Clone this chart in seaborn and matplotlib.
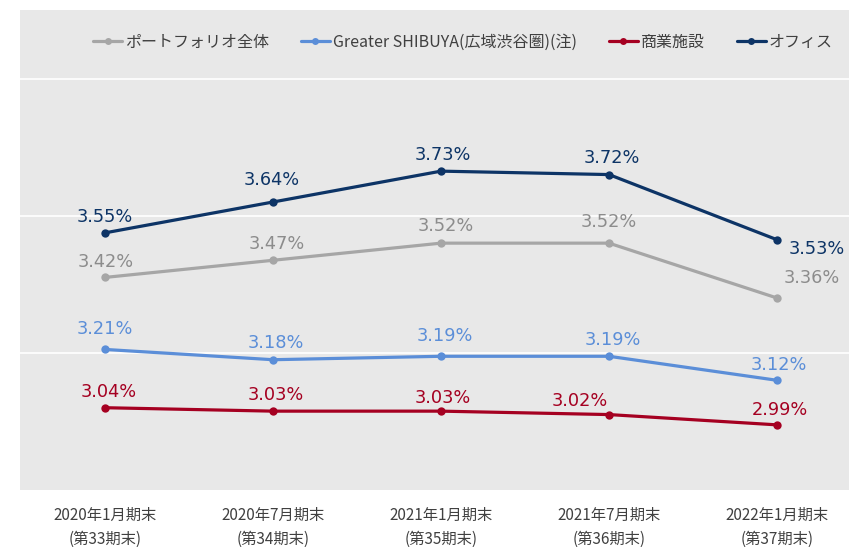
import pandas as pd
import matplotlib
matplotlib.use("Agg")
import matplotlib.pyplot as plt
import seaborn as sns

# periods (x axis)
periods = ["2020年1月期末\n(第33期末)", "2020年7月期末\n(第34期末)", "2021年1月期末\n(第35期末)",
           "2021年7月期末\n(第36期末)", "2022年1月期末\n(第37期末)"]

# NOI yields (%)
portfolio = [3.42, 3.47, 3.52, 3.52, 3.36]
shibuya = [3.21, 3.18, 3.19, 3.19, 3.12]
retail = [3.04, 3.03, 3.03, 3.02, 2.99]
office = [3.55, 3.64, 3.73, 3.72, 3.53]

series_names = ["ポートフォリオ全体", "Greater SHIBUYA(広域渋谷圏)(注)", "商業施設", "オフィス"]
series_values = [portfolio, shibuya, retail, office]

line_colors = ["#a6a6a6", "#5b8ed8", "#a50021", "#0d3466"]
label_colors = ["#8c8c8c", "#5b8ed8", "#a50021", "#0d3466"]

# label offsets in pixels (dx, dy) for each point
offsets = [
    [(1, 15), (4, 16), (5, 17), (0, 21), (35, 20)],
    [(0, 20), (3, 17), (4, 20), (4, 16), (2, 15)],
    [(4, 16), (3, 16), (2, 13), (-29, 14), (3, 15)],
    [(0, 16), (-1, 22), (2, 16), (3, 17), (40, -9)],
]

rows = []
for name, vals in zip(series_names, series_values):
    for i, v in enumerate(vals):
        rows.append({"x": i, "value": v, "series": name})
df = pd.DataFrame(rows)

sns.set_style("white")
plt.rcParams["font.family"] = ["Noto Sans CJK JP", "DejaVu Sans"]

fig = plt.figure(figsize=(8.49, 5.47), dpi=100)
ax = fig.add_axes([20 / 849, 57 / 547, 829 / 849, 480 / 547])
ax.set_facecolor("#e8e8e8")

palette = dict(zip(series_names, line_colors))
sns.lineplot(data=df, x="x", y="value", hue="series", hue_order=series_names,
             palette=palette, marker="o", markersize=6, markeredgewidth=0,
             linewidth=2.3, ax=ax, legend=False)

# value labels
for k, vals in enumerate(series_values):
    for i, v in enumerate(vals):
        dx, dy = offsets[k][i]
        ax.annotate(f"{v:.2f}%", (i, v), xytext=(dx, dy), textcoords="offset pixels",
                    ha="center", va="center", fontsize=12.8, color=label_colors[k],
                    family="DejaVu Sans")

ax.set_xlim(-(105 - 20) / 168, (849 - 105) / 168)
ax.set_ylim(2.8, 4.2)
ax.set_yticks([3.2, 3.6, 4.0])
ax.set_yticklabels([])
ax.tick_params(axis="y", length=0)
ax.grid(axis="y", color="white", linewidth=1.2)
ax.set_xticks(range(len(periods)))
ax.set_xticklabels([])
ax.tick_params(axis="x", length=0)
for i, p in enumerate(periods):
    ax.annotate(p, (i, 0), xycoords=("data", "axes fraction"), xytext=(0, -37),
                textcoords="offset pixels", ha="center", va="center",
                fontsize=11, color="#404040", linespacing=1.55)
ax.set_xlabel("")
ax.set_ylabel("")
for s in ax.spines.values():
    s.set_visible(False)

handles = [plt.Line2D([], [], color=c, marker="o", markersize=5, markeredgewidth=0, linewidth=2.3)
           for c in line_colors]
ax.legend(handles, series_names, ncol=4, frameon=False, loc="center",
          bbox_to_anchor=((463 - 20) / 829, 1 - 32 / 480), fontsize=11.5, handlelength=1.8,
          handletextpad=0.2, columnspacing=2.0, labelcolor="#404040")

fig.savefig("out.png", dpi=100)
